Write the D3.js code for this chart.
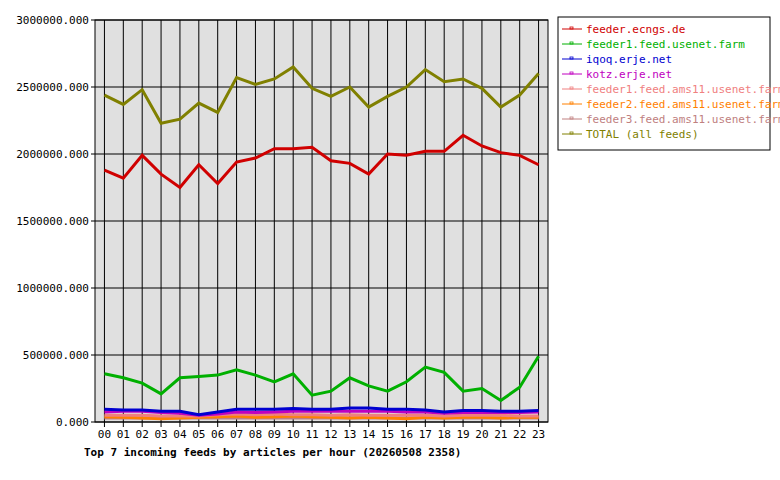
<!DOCTYPE html>
<html><head><meta charset="utf-8">
<script src="https://cdn.jsdelivr.net/npm/d3@7"></script>
<style>body{margin:0;background:#fff}text{font-family:"DejaVu Sans Mono",monospace}</style>
</head><body><div id="chart"></div>
<script>
const hours = d3.range(24).map(h => String(h).padStart(2, "0"))
const names = ["feeder.ecngs.de", "feeder1.feed.usenet.farm", "iqoq.erje.net", "kotz.erje.net",
  "feeder1.feed.ams11.usenet.farm", "feeder2.feed.ams11.usenet.farm", "feeder3.feed.ams11.usenet.farm", "TOTAL (all feeds)"]
const colors = ["#d00000", "#00b000", "#0000d0", "#c000c0", "#f08080", "#ff8000", "#c08080", "#808000"]
const ecngs = [1880000,1820000,1990000,1850000,1750000,1920000,1780000,1940000,1970000,2040000,2040000,2050000,1950000,1930000,1850000,2000000,1990000,2020000,2020000,2140000,2060000,2010000,1990000,1920000]
const usenet1 = [360000,330000,290000,210000,330000,340000,350000,390000,350000,300000,360000,200000,230000,330000,270000,230000,300000,410000,370000,230000,250000,160000,260000,490000]
const iqoq = [95000,90000,90000,80000,80000,55000,75000,95000,95000,95000,100000,95000,95000,105000,105000,95000,95000,90000,75000,85000,85000,80000,80000,85000]
const kotz = [75000,80000,80000,70000,65000,50000,60000,75000,70000,75000,80000,80000,80000,80000,80000,80000,75000,75000,65000,70000,70000,70000,70000,75000]
const ams1 = [50000,50000,50000,45000,45000,45000,55000,60000,55000,60000,55000,55000,50000,55000,50000,50000,50000,50000,45000,50000,50000,50000,45000,45000]
const ams2 = [40000,35000,30000,25000,30000,35000,40000,45000,35000,40000,45000,40000,35000,30000,35000,30000,25000,35000,30000,35000,35000,30000,35000,35000]
const ams3 = [30000,30000,30000,30000,30000,30000,30000,30000,30000,30000,30000,30000,30000,30000,30000,30000,30000,30000,30000,30000,30000,30000,30000,30000]
const total = [2440000,2370000,2480000,2230000,2260000,2380000,2310000,2570000,2520000,2560000,2650000,2490000,2430000,2500000,2350000,2430000,2500000,2630000,2540000,2560000,2490000,2350000,2440000,2600000]
const series = [ecngs, usenet1, iqoq, kotz, ams1, ams2, ams3, total]
const yTicks = [0, 500000, 1000000, 1500000, 2000000, 2500000, 3000000]

const svg = d3.select("#chart").append("svg").attr("width", 780).attr("height", 480)
const pLeft = 95, pRight = 548, pTop = 20, pBottom = 422
const x = d3.scalePoint().domain(hours).range([pLeft, pRight]).padding(0.5)
const y = d3.scaleLinear().domain([0, 3000000]).range([pBottom, pTop])

svg.append("rect").attr("x", pLeft).attr("y", pTop).attr("width", pRight - pLeft).attr("height", pBottom - pTop)
  .attr("fill", "#e0e0e0").attr("stroke", "#000")

svg.append("g").selectAll("line").data(hours).join("line")
  .attr("x1", d => x(d)).attr("x2", d => x(d)).attr("y1", pTop).attr("y2", pBottom + 5).attr("stroke", "#000")
svg.append("g").selectAll("line").data(yTicks).join("line")
  .attr("x1", pLeft - 4).attr("x2", pRight).attr("y1", d => y(d)).attr("y2", d => y(d)).attr("stroke", "#000")

svg.append("g").selectAll("text").data(yTicks).join("text")
  .attr("x", pLeft - 6).attr("y", d => y(d) + 4).attr("text-anchor", "end").attr("font-size", 11)
  .text(d => d3.format(".3f")(d))
svg.append("g").selectAll("text").data(hours).join("text")
  .attr("x", d => x(d)).attr("y", pBottom + 16).attr("text-anchor", "middle").attr("font-size", 11)
  .text(d => d)

const line = d3.line().x((d, i) => x(hours[i])).y(d => y(d))
svg.append("g").selectAll("path").data(series.map((s, i) => i).reverse()).join("path")
  .attr("d", i => line(series[i])).attr("fill", "none").attr("stroke", i => colors[i])
  .attr("stroke-width", 3).attr("stroke-linejoin", "miter")

svg.append("text").attr("x", 84).attr("y", 456).attr("font-size", 11).attr("font-weight", "bold")
  .text("Top 7 incoming feeds by articles per hour (20260508 2358)")

const lg = svg.append("g")
lg.append("rect").attr("x", 558).attr("y", 17).attr("width", 212).attr("height", 133)
  .attr("fill", "#fff").attr("stroke", "#000")
const item = lg.selectAll("g").data(names).join("g")
  .attr("transform", (d, i) => `translate(562,${33 + i * 15})`)
item.append("line").attr("x1", 0).attr("x2", 20).attr("y1", -4).attr("y2", -4)
  .attr("stroke", (d, i) => colors[i]).attr("stroke-width", 1)
item.append("rect").attr("x", 8).attr("y", -6).attr("width", 3).attr("height", 2)
  .attr("fill", "none").attr("stroke", (d, i) => colors[i]).attr("stroke-width", 0.8)
item.append("text").attr("x", 24).attr("y", 0).attr("font-size", 11)
  .attr("fill", (d, i) => colors[i]).text(d => d)
</script></body></html>
